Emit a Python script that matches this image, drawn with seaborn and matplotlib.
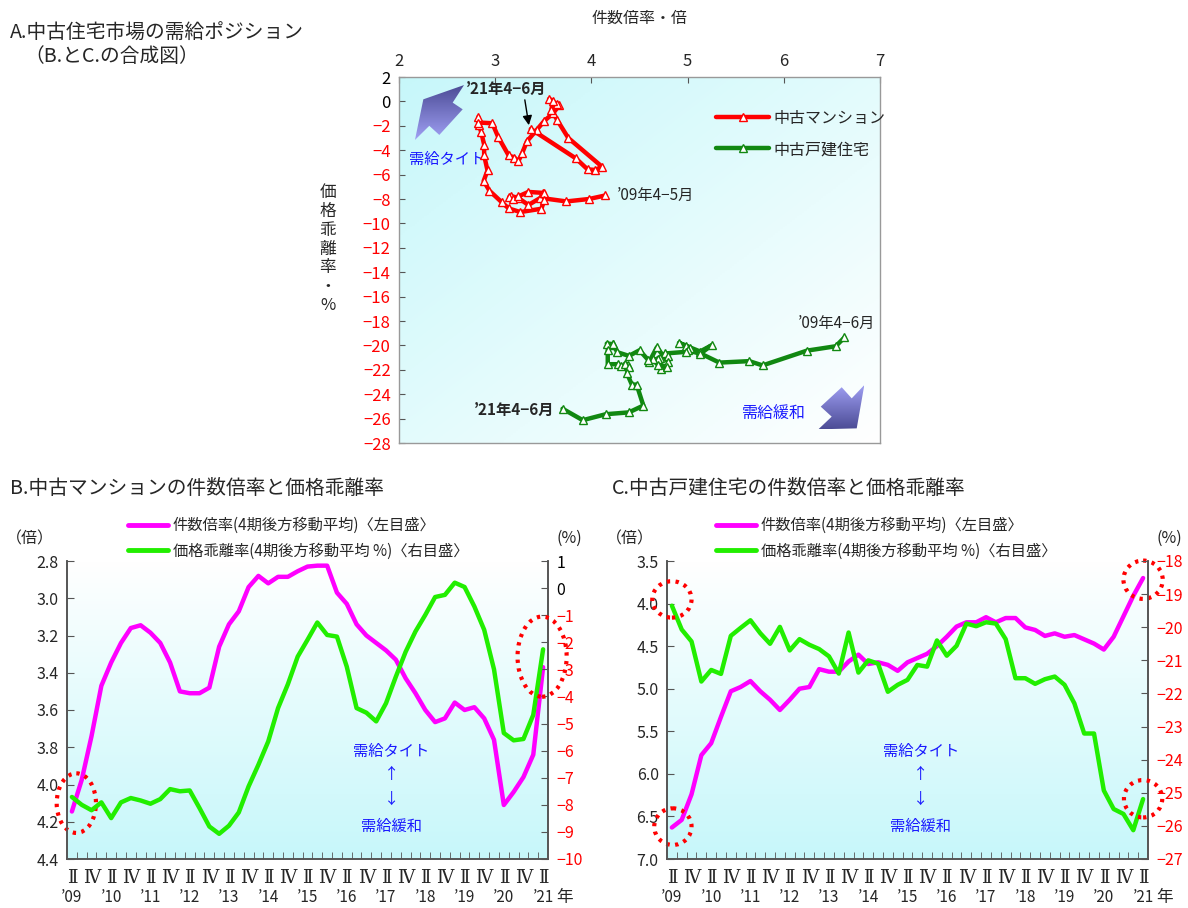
"""
plot.py - 中古住宅市場の需給ポジション (A) と件数倍率・価格乖離率の推移 (B, C).
"""

import numpy as np
import pandas as pd
import seaborn as sns
import matplotlib
matplotlib.use("Agg")
import matplotlib.pyplot as plt
import matplotlib.transforms as mtransforms
from matplotlib.patches import Ellipse, Polygon
from matplotlib.lines import Line2D
from matplotlib.colors import LinearSegmentedColormap

sns.set_style("ticks")
plt.rcParams["font.family"] = ["Noto Sans CJK JP", "DejaVu Sans"]
plt.rcParams["axes.unicode_minus"] = True

# ── data (quarterly, 2009 II .. 2021 II) ───────────────────────────
quarter_marks = ["Ⅱ", "Ⅳ"] * 12 + ["Ⅱ"]          # one label every two quarters
year_labels = ["’09", "’10", "’11", "’12", "’13", "’14", "’15",
               "’16", "’17", "’18", "’19", "’20", "’21"]

# 中古マンション
mansion_ratio = [4.145, 3.975, 3.74, 3.47, 3.345, 3.24, 3.16, 3.145, 3.185, 3.24,
                 3.345, 3.50, 3.51, 3.51, 3.48, 3.26, 3.14, 3.07, 2.94, 2.88,
                 2.92, 2.885, 2.885, 2.855, 2.83, 2.825, 2.825, 2.97, 3.03, 3.14,
                 3.20, 3.24, 3.28, 3.33, 3.43, 3.51, 3.60, 3.665, 3.645, 3.56,
                 3.60, 3.585, 3.645, 3.76, 4.11, 4.04, 3.96, 3.84, 3.37]
mansion_gap = [-7.71, -8.0, -8.2, -7.91, -8.49, -7.91, -7.75, -7.84, -7.96, -7.79,
               -7.42, -7.5, -7.47, -8.12, -8.8, -9.07, -8.77, -8.28, -7.32, -6.52,
               -5.66, -4.43, -3.55, -2.53, -1.91, -1.27, -1.73, -1.79, -2.9, -4.43,
               -4.6, -4.92, -4.25, -3.27, -2.35, -1.6, -0.99, -0.33, -0.25, 0.2,
               0.04, -0.68, -1.54, -3.0, -5.35, -5.62, -5.57, -4.68, -2.26]

# 中古戸建住宅
house_ratio = [6.63, 6.54, 6.24, 5.78, 5.64, 5.33, 5.03, 4.98, 4.91, 5.03,
               5.13, 5.25, 5.13, 5.0, 4.98, 4.77, 4.80, 4.80, 4.68, 4.60,
               4.71, 4.69, 4.72, 4.79, 4.69, 4.64, 4.59, 4.50, 4.39, 4.27,
               4.22, 4.22, 4.16, 4.22, 4.17, 4.17, 4.28, 4.31, 4.38, 4.35,
               4.39, 4.37, 4.42, 4.47, 4.54, 4.39, 4.15, 3.91, 3.70]
house_gap = [-19.35, -20.07, -20.43, -21.64, -21.29, -21.41, -20.26, -20.02, -19.79, -20.18,
             -20.5, -19.99, -20.70, -20.36, -20.53, -20.66, -20.88, -21.4, -20.16, -21.37,
             -21.0, -21.1, -21.95, -21.74, -21.59, -21.14, -21.19, -20.4, -20.86, -20.56,
             -19.89, -19.97, -19.85, -19.89, -20.36, -21.54, -21.54, -21.71, -21.57, -21.49,
             -21.74, -22.30, -23.21, -23.21, -24.93, -25.49, -25.64, -26.13, -25.19]

df = pd.DataFrame({
    "q": np.arange(len(mansion_ratio)),
    "mansion_ratio": mansion_ratio,
    "mansion_gap": mansion_gap,
    "house_ratio": house_ratio,
    "house_gap": house_gap,
})

MAGENTA = "#ff00ff"
LIME = "#22ee00"
RED = "#ff0000"
DKGREEN = "#118811"
BLUE = "#1a1aff"
SPINE = "#555555"
CYAN = (0.78, 0.97, 0.98)

W, H = 1188, 908
fig = plt.figure(figsize=(W / 100, H / 100), dpi=100)


def px_rect(left, top, right, bottom):
    return [left / W, 1 - bottom / H, (right - left) / W, (bottom - top) / H]


def gradient_axes(rect, diagonal=False):
    bg = fig.add_axes(rect, zorder=0)
    yy, xx = np.mgrid[0:1:200j, 0:1:200j]
    if diagonal:
        # cyan at top-left, fading to white at bottom-right
        z = (xx + yy) / 2
        cmap = LinearSegmentedColormap.from_list("bg", [CYAN, "white"])
    else:
        # white at top, cyan at bottom
        z = yy
        cmap = LinearSegmentedColormap.from_list("bg", ["white", CYAN])
    bg.imshow(z, cmap=cmap, aspect="auto", extent=[0, 1, 0, 1],
              origin="upper", interpolation="bilinear")
    bg.set_axis_off()
    return bg


def dotted_ellipse(ax, x, y, w, h):
    e = Ellipse((x, y), w, h, fill=False, edgecolor=RED, lw=3,
                linestyle=(0, (0.8, 1.3)), clip_on=False, zorder=5)
    ax.add_patch(e)


def block_arrow(ax, verts, dark_top=True):
    poly = Polygon(verts, closed=True, facecolor="none", edgecolor="none")
    ax.add_patch(poly)
    xs = [v[0] for v in verts]
    ys = [v[1] for v in verts]
    cols = ["#4c4c96", "#a0a0f4"] if dark_top else ["#a0a0f4", "#4c4c96"]
    grad = np.linspace(0, 1, 100).reshape(-1, 1) * np.ones((1, 10))
    im = ax.imshow(grad, cmap=LinearSegmentedColormap.from_list("arr", cols),
                   extent=[min(xs), max(xs), min(ys), max(ys)], origin="upper",
                   aspect="auto", zorder=3)
    im.set_clip_path(poly)


# ── A: 需給ポジション ─────────────────────────────────────────────
rectA = px_rect(399, 77, 880, 443)
gradient_axes(rectA, diagonal=True)
axA = fig.add_axes(rectA, zorder=1)
axA.patch.set_visible(False)

sns.lineplot(x=df["mansion_ratio"], y=df["mansion_gap"], sort=False, estimator=None,
             ax=axA, color=RED, lw=3.2, marker="^", markersize=5.5,
             markerfacecolor="white", markeredgecolor=RED, markeredgewidth=1, zorder=4)
sns.lineplot(x=df["house_ratio"], y=df["house_gap"], sort=False, estimator=None,
             ax=axA, color=DKGREEN, lw=3.2, marker="^", markersize=5.5,
             markerfacecolor="white", markeredgecolor=DKGREEN, markeredgewidth=1, zorder=4)

block_arrow(axA, [(2.253, 0.17), (2.676, 1.34), (2.558, -0.1), (2.662, -0.65),
                  (2.419, -2.75), (2.315, -2.0), (2.166, -3.16)], dark_top=True)
block_arrow(axA, [(6.602, -23.43), (6.706, -24.34), (6.837, -23.25), (6.758, -26.80),
                  (6.359, -26.88), (6.498, -25.84), (6.384, -25.02)], dark_top=False)

axA.set_xlim(2, 7)
axA.set_ylim(-28, 2)
axA.set_xlabel("")
axA.set_ylabel("")
axA.xaxis.tick_top()
axA.set_xticks(range(2, 8))
axA.set_yticks(range(-28, 3, 2))
axA.set_yticklabels([str(v).replace("-", "−") for v in range(-28, 3, 2)])
for lab, v in zip(axA.get_yticklabels(), range(-28, 3, 2)):
    lab.set_color(RED if v < 0 else "black")
axA.tick_params(axis="both", direction="in", length=4, labelsize=12, color=SPINE, pad=6)
axA.tick_params(axis="x", pad=5)
for s in axA.spines.values():
    s.set_color("#999999")
    s.set_linewidth(1)

axA.text(0.5, 1.16, "件数倍率・倍", transform=axA.transAxes, ha="center", va="center", fontsize=11.5)
axA.text(-0.148, 0.53, "価\n格\n乖\n離\n率\n・\n%", transform=axA.transAxes,
         ha="center", va="center", fontsize=12, linespacing=1.15)

axA.annotate("’21年4−6月", xy=(3.35, -1.95), xytext=(2.70, 1.05), fontsize=11,
             fontweight="bold", ha="left", va="center",
             arrowprops=dict(arrowstyle="-|>", color="black", lw=1, mutation_scale=14,
                             shrinkA=0, shrinkB=0, relpos=(0.72, 0.0)))
axA.text(2.10, -4.72, "需給タイト", color=BLUE, fontsize=11, ha="left", va="center")
axA.text(4.26, -7.67, "’09年4−5月", fontsize=11, ha="left", va="center")
axA.text(6.15, -18.2, "’09年4−6月", fontsize=11, ha="left", va="center")
axA.text(3.62, -25.3, "’21年4−6月", fontsize=11, fontweight="bold", ha="right", va="center")
axA.text(5.57, -25.7, "需給緩和", color=BLUE, fontsize=11.5, ha="left", va="center")

handlesA = [
    Line2D([], [], color=RED, lw=3.2, marker="^", markersize=5.5, markerfacecolor="white",
           markeredgecolor=RED),
    Line2D([], [], color=DKGREEN, lw=3.2, marker="^", markersize=5.5, markerfacecolor="white",
           markeredgecolor=DKGREEN),
]
axA.legend(handlesA, ["中古マンション", "中古戸建住宅"], loc="upper left",
           bbox_to_anchor=(0.63, 0.95), frameon=False, fontsize=11.5,
           handlelength=3.3, labelspacing=0.9, handletextpad=0.3)

fig.text(10 / W, 1 - 33 / H, "A.中古住宅市場の需給ポジション", fontsize=14.2, va="center", ha="left")
fig.text(24 / W, 1 - 57 / H, "（B.とC.の合成図）", fontsize=14.2, va="center", ha="left")


# ── B / C: 件数倍率と価格乖離率 ───────────────────────────────────
def dual_panel(rect, ratio_col, gap_col, left_lim, left_ticks, right_lim, title, title_x,
               note_x, legend_x):
    gradient_axes(rect)
    ax = fig.add_axes(rect, zorder=1)
    ax.patch.set_visible(False)
    sns.lineplot(data=df, x="q", y=ratio_col, ax=ax, color=MAGENTA, lw=3.2)
    ax2 = ax.twinx()
    ax2.set_zorder(2)
    sns.lineplot(data=df, x="q", y=gap_col, ax=ax2, color=LIME, lw=3.2)

    ax.set_xlim(-0.5, 48.5)
    ax.set_ylim(*left_lim)
    ax2.set_ylim(*right_lim)
    for a in (ax, ax2):
        a.set_xlabel("")
        a.set_ylabel("")

    ax.set_yticks(left_ticks)
    ax.set_yticklabels([f"{v:.1f}" for v in left_ticks])
    rticks = list(range(int(right_lim[0]), int(right_lim[1]) + 1))
    ax2.set_yticks(rticks)
    ax2.set_yticklabels([str(v).replace("-", "−") for v in rticks])
    for lab, v in zip(ax2.get_yticklabels(), rticks):
        lab.set_color(RED if v < 0 else "black")

    ax.set_xticks(range(0, 49, 2))
    ax.set_xticklabels(quarter_marks, family=["DejaVu Serif", "Noto Sans CJK JP"])
    ax.set_xticks(np.arange(0.5, 48, 1), minor=True)
    ax.tick_params(axis="x", which="major", length=0, pad=7, labelsize=13)
    ax.tick_params(axis="x", which="minor", direction="in", length=5, color=SPINE)
    ax.tick_params(axis="y", direction="in", length=5, color=SPINE, labelsize=11.5, pad=6)
    ax2.tick_params(axis="y", direction="in", length=5, color=SPINE, labelsize=11.5, pad=6)

    for a in (ax, ax2):
        a.spines["top"].set_visible(False)
        for side in ("left", "right", "bottom"):
            a.spines[side].set_color(SPINE)
            a.spines[side].set_linewidth(1.2)

    blend = mtransforms.blended_transform_factory(ax.transData, ax.transAxes)
    for k, lab in enumerate(year_labels):
        ax.text(k * 4, -0.128, lab, transform=blend, ha="center", va="center", fontsize=11)
    ax.text(50.2, -0.128, "年", transform=blend, ha="center", va="center", fontsize=12,
            clip_on=False)

    ax.text(-0.077, 1.075, "（倍）", transform=ax.transAxes, ha="center", va="center", fontsize=11.5)
    ax.text(1.045, 1.075, "(%)", transform=ax.transAxes, ha="center", va="center", fontsize=11.5)

    for y, s in [(0.362, "需給タイト"), (0.285, "↑"), (0.20, "↓"), (0.11, "需給緩和")]:
        ax.text(note_x, y, s, transform=ax.transAxes, color=BLUE, ha="center", va="center",
                fontsize=11)

    handles = [Line2D([], [], color=MAGENTA, lw=3.5), Line2D([], [], color=LIME, lw=3.5)]
    ax.legend(handles, ["件数倍率(4期後方移動平均)〈左目盛〉", "価格乖離率(4期後方移動平均 %)〈右目盛〉"],
              loc="lower left", bbox_to_anchor=(legend_x, 0.985),
              frameon=False, fontsize=11, handlelength=2.6, labelspacing=0.55, handletextpad=0.3,
              borderaxespad=0)

    fig.text(title_x / W, 1 - 488 / H, title, fontsize=14.2, va="center", ha="left")
    return ax, ax2


axB, axB2 = dual_panel(px_rect(67, 561, 548, 859), "mansion_ratio", "mansion_gap",
                       (4.4, 2.8), np.round(np.arange(2.8, 4.41, 0.2), 1), (-10, 1),
                       "B.中古マンションの件数倍率と価格乖離率", 10, 0.674, 0.115)
dotted_ellipse(axB, 0.45, 4.10, 4.0, 0.32)
dotted_ellipse(axB2, 47.9, -2.53, 5.0, 2.96)

axC, axC2 = dual_panel(px_rect(667, 561, 1148, 859), "house_ratio", "house_gap",
                       (7.0, 3.5), np.round(np.arange(3.5, 7.01, 0.5), 1), (-27, -18),
                       "C.中古戸建住宅の件数倍率と価格乖離率", 612, 0.528, 0.09)
dotted_ellipse(axC2, 0.0, -19.16, 4.0, 1.1)
dotted_ellipse(axC, 0.1, 6.62, 3.8, 0.43)
dotted_ellipse(axC, 48.0, 3.72, 4.0, 0.45)
dotted_ellipse(axC2, 48.0, -25.18, 3.9, 1.13)

fig.savefig("out.png", dpi=100)
plt.close(fig)
